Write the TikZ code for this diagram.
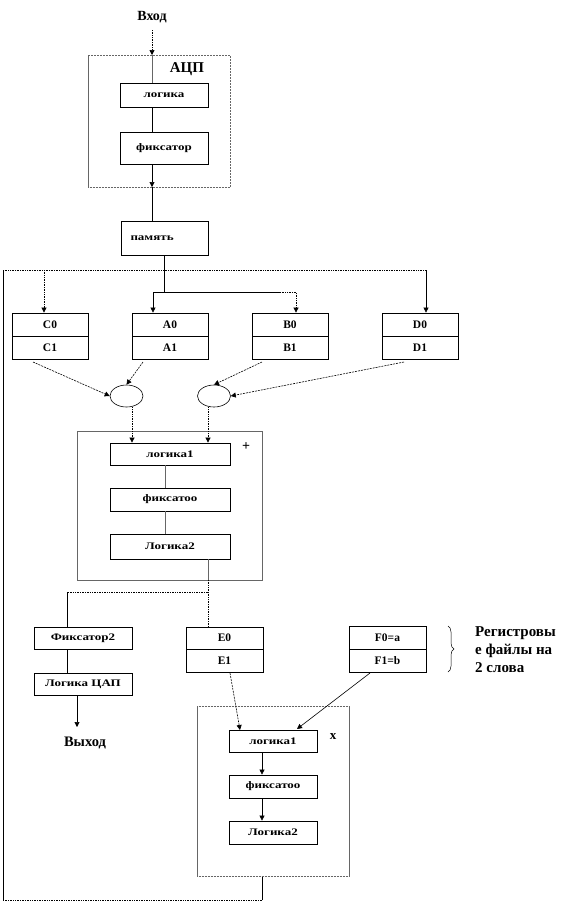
\documentclass[tikz,border=0pt]{standalone}
\usepackage{fontspec}
\setmainfont{Liberation Serif}
\newfontfamily\widefont[FakeStretch=1.3]{Liberation Serif}
\usetikzlibrary{arrows.meta,shapes.geometric,decorations.pathreplacing}
\begin{document}
\begin{tikzpicture}[x=1pt,y=-1pt,
  box/.style={draw, line width=0.8pt, inner sep=0pt, font=\widefont\bfseries\fontsize{10}{11}\selectfont},
  reg/.style={box, font=\bfseries\fontsize{11.5}{12}\selectfont},
  frame/.style={draw, line width=0.5pt, gray!80!black},
  lbl/.style={font=\bfseries\fontsize{14}{16}\selectfont, inner sep=0pt},
  con/.style={line width=0.6pt},
  dot/.style={line width=0.7pt, densely dotted},
  dsh/.style={line width=0.6pt, dash pattern=on 2pt off 1pt},
  arr/.style={-{Triangle[length=5pt,width=5pt]}},
  ov/.style={draw, ellipse, line width=0.6pt, minimum width=33pt, minimum height=22pt, inner sep=0pt}
]
\useasboundingbox (0,0) rectangle (572,903);

% ---- input / ADC ----
\node[lbl] (vhod) at (152,17) {Вход};
\node[lbl, font=\bfseries\fontsize{15}{16}\selectfont] (acp) at (187,69) {АЦП};
\draw[frame] (88,55) -- (88,187);
\draw[frame, densely dotted] (88,187) -- (230,187) -- (230,55) -- (88,55);
\node[box, minimum width=88pt, minimum height=24pt] (logA) at (164,95) {логика};
\node[box, minimum width=88pt, minimum height=32pt] (fixA) at (164,148) {фиксатор};
\node[box, minimum width=87pt, minimum height=34pt, text width=80pt, align=left] (mem) at (164.5,238) {\hspace*{6pt}память};

\coordinate (inTop) at (152,30);
\coordinate (adcIn) at (152,55);
\draw[dot, arr] (inTop) -- (adcIn);
\draw[con, gray!80!black] (adcIn) -- (logA.north -| adcIn);
\draw[con] (logA.south -| adcIn) -- (fixA.north -| adcIn);
\coordinate (adcOut) at (152,187);
\draw[con, arr] (fixA.south -| adcIn) -- (adcOut);
\draw[con] (adcOut) -- (mem.north -| adcOut);

% ---- registers ----
\foreach \n/\x/\a/\b in {c/50/C0/C1, a/170/A0/A1, b/290/B0/B1, d/420/D0/D1}{
  \node[reg, minimum width=76pt, minimum height=23pt] (\n0) at (\x,324.5) {\a};
  \node[reg, minimum width=76pt, minimum height=23pt] (\n1) at (\x,347.5) {\b};
}

% memory distribution
\coordinate (memOut) at (164,255);
\coordinate (busM) at (164,292);
\coordinate (busL) at (153,292);
\coordinate (busR) at (296,292);
\draw[con] (memOut) -- (busM);
\draw[con, arr] (busM) -- (busL) -- (a0.north -| busL);
\draw[con] (busM) -- (280,292);
\draw[dot, arr] (280,292) -- (busR) -- (b0.north -| busR);

% feedback loop
\coordinate (fbC) at (44,270);
\coordinate (fbD) at (426,270);
\coordinate (fbL) at (3,270);
\coordinate (fbBL) at (3,900);
\coordinate (fbBR) at (262,900);
\coordinate (fbOut) at (262,876);
\draw[con] (fbOut) -- (fbBR);
\draw[dot] (fbBR) -- (fbBL);
\draw[con] (fbBL) -- (fbL);
\draw[dot] (fbL) -- (fbD);
\draw[con, arr] (fbD) -- (d0.north -| fbD);
\draw[dot, arr] (fbC) -- (c0.north -| fbC);

% ellipses
\node[ov] (eL) at (126.5,396) {};
\node[ov] (eR) at (214,396) {};
\draw[dsh, arr] (33,362) -- (eL.west);
\draw[dsh, arr] (143,362) -- (eL.north);
\draw[dsh, arr] (262,362) -- (eR.north);
\draw[dsh, arr] (404,362) -- (eR.east);

% ---- plus block ----
\draw[frame] (77,431) rectangle (262,580);
\node[lbl] (plus) at (246,447) {+};
\node[box, minimum width=120pt, minimum height=22pt] (log1) at (170,454) {логика1};
\node[box, minimum width=120pt, minimum height=23pt] (fix1) at (170,499.5) {фиксатоо};
\node[box, minimum width=120pt, minimum height=25pt] (log2) at (170,546.5) {Логика2};
\draw[dot, arr] (eL.south -| 132,0) -- (log1.north -| 132,0);
\draw[dot, arr] (eR.south -| 208,0) -- (log1.north -| 208,0);
\draw[con, gray!80!black] (log1.south -| 165,0) -- (fix1.north -| 165,0);
\draw[con, gray!80!black] (fix1.south -| 165,0) -- (log2.north -| 165,0);

% ---- outputs ----
\node[box, minimum width=98pt, minimum height=22pt] (fix2) at (83,638) {Фиксатор2};
\node[box, minimum width=98pt, minimum height=22pt] (dac) at (83,684) {Логика ЦАП};
\node[lbl, font=\bfseries\fontsize{14.5}{16}\selectfont] (vyhod) at (85,743) {Выход};
\node[reg, minimum width=77pt, minimum height=22pt] (e0) at (224.5,638) {E0};
\node[reg, minimum width=77pt, minimum height=23pt] (e1) at (224.5,660.5) {E1};
\node[reg, minimum width=77pt, minimum height=23pt] (f0) at (387.5,637.5) {F0=a};
\node[reg, minimum width=77pt, minimum height=23pt] (f1) at (387.5,660.5) {F1=b};

\coordinate (l2out) at (208,559);
\coordinate (spR) at (208,592);
\coordinate (spL) at (67,592);
\draw[con, gray!80!black] (l2out) -- (208,580);
\draw[dot] (208,580) -- (spR) -- (spL);
\draw[dot] (spR) -- (e0.north -| spR);
\draw[con] (spL) -- (fix2.north -| spL);
\draw[con] (fix2.south -| spL) -- (dac.north -| spL);
\draw[con, arr] (dac.south -| 77,0) -- (77,727);

% brace and note
\coordinate (brT) at (448,626);
\coordinate (brB) at (448,672);
\draw[line width=0.5pt, decorate, decoration={brace, amplitude=6pt}] (brT) -- (brB);
\node[font=\bfseries\fontsize{15}{18}\selectfont, align=left, anchor=north west, inner sep=0pt] (note) at (475,626) {Регистровы\\е файлы на\\2 слова};

% ---- times block ----
\draw[frame] (197,706) -- (197,876);
\draw[frame, densely dotted] (197,706) -- (349,706);
\draw[frame] (349,706) -- (349,876);
\draw[frame, densely dotted] (197,876) -- (349,876);
\node[lbl, font=\bfseries\fontsize{13}{14}\selectfont] (times) at (333,737) {x};
\node[box, minimum width=88pt, minimum height=22pt] (log1b) at (273,741) {логика1};
\node[box, minimum width=88pt, minimum height=23pt] (fix1b) at (273,786.5) {фиксатоо};
\node[box, minimum width=88pt, minimum height=23pt] (log2b) at (273,832.5) {Логика2};
\draw[dsh, arr] (230,673) -- (240,730);
\draw[con, arr] (370,673) -- (297,729);
\draw[con, arr] (log1b.south -| 262,0) -- (fix1b.north -| 262,0);
\draw[con, arr] (fix1b.south -| 262,0) -- (log2b.north -| 262,0);
\end{tikzpicture}
\end{document}
